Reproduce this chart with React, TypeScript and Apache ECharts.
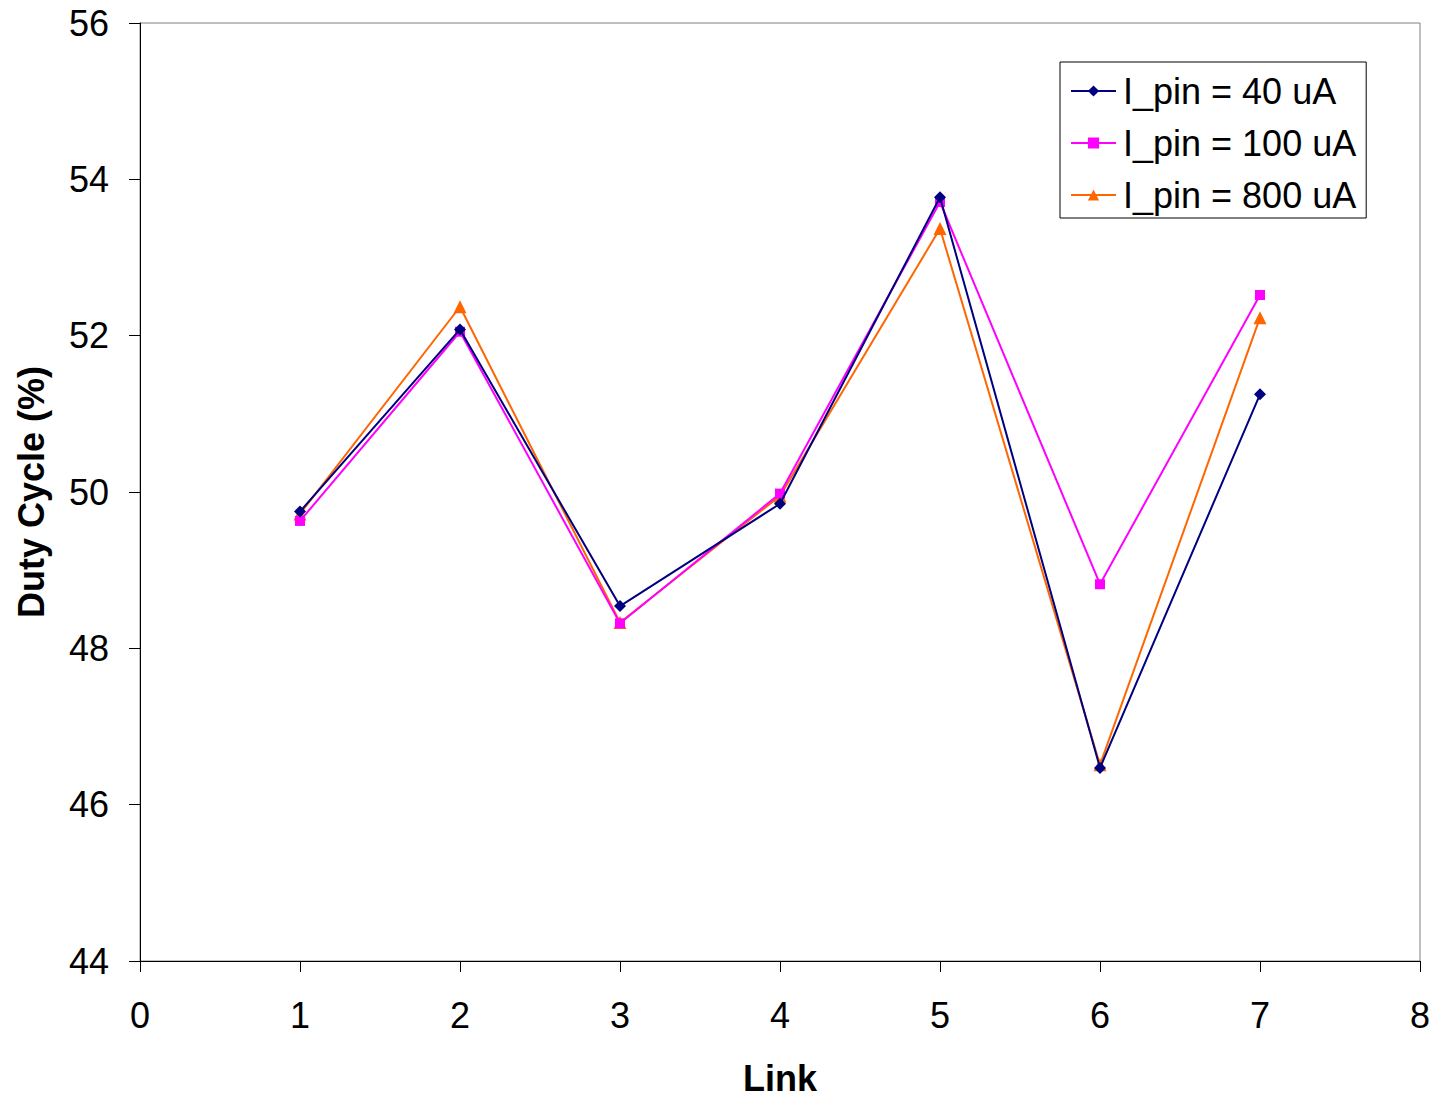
import React, { useEffect, useRef } from "react";
import * as echarts from "echarts";

const links = [1, 2, 3, 4, 5, 6, 7];
const seriesNames = ["I_pin = 40 uA", "I_pin = 100 uA", "I_pin = 800 uA"];
const pin40 = [49.75, 52.08, 48.54, 49.85, 53.77, 46.47, 51.25];
const pin100 = [49.63, 52.05, 48.32, 49.98, 53.71, 48.82, 52.52];
const pin800 = [49.72, 52.37, 48.33, 49.95, 53.37, 46.51, 52.23];
const colors = ["#000080", "#FF00FF", "#FF6600"];
const symbols = ["diamond", "rect", "triangle"];
const symbolSizes = [12, 10, 13];

const FONT = "'Liberation Sans', Arial, sans-serif";

export default function App() {
  const ref = useRef<HTMLDivElement>(null);
  useEffect(() => {
    if (!ref.current) return;
    const chart = echarts.init(ref.current, undefined, { renderer: "svg" });
    const allData = [pin40, pin100, pin800];
    chart.setOption({
      animation: false,
      backgroundColor: "#ffffff",
      textStyle: { fontFamily: FONT },
      grid: {
        left: 140,
        top: 23,
        right: 14,
        bottom: 137,
        containLabel: false,
        outerBoundsMode: "none",
        show: true,
        borderColor: "#808080",
        borderWidth: 1,
      },
      legend: {
        orient: "vertical",
        left: 1060,
        top: 62,
        padding: [11, 10, 5, 10],
        itemWidth: 45,
        itemHeight: 14,
        itemGap: 16,
        backgroundColor: "#ffffff",
        borderColor: "#000000",
        borderWidth: 1,
        borderRadius: 0,
        textStyle: { fontSize: 36, color: "#000", fontFamily: FONT, padding: [0, 0, 0, 2] },
        data: seriesNames,
      },
      xAxis: {
        type: "value",
        min: 0,
        max: 8,
        interval: 1,
        name: "Link",
        nameLocation: "middle",
        nameGap: 99,
        nameTextStyle: { fontSize: 36, fontWeight: "bold", color: "#000", fontFamily: FONT },
        axisLine: { show: true, lineStyle: { color: "#000", width: 1 } },
        axisTick: { show: true, inside: false, length: 11, lineStyle: { color: "#000" } },
        axisLabel: { fontSize: 36, color: "#000", margin: 36, fontFamily: FONT, showMaxLabel: true, showMinLabel: true },
        splitLine: { show: false },
      },
      yAxis: {
        type: "value",
        min: 44,
        max: 56,
        interval: 2,
        name: "Duty Cycle (%)",
        nameLocation: "middle",
        nameGap: 91,
        nameRotate: 90,
        nameTextStyle: { fontSize: 36, fontWeight: "bold", color: "#000", fontFamily: FONT },
        axisLine: { show: true, lineStyle: { color: "#000", width: 1 } },
        axisTick: { show: true, inside: false, length: 11, lineStyle: { color: "#000" } },
        axisLabel: { fontSize: 36, color: "#000", margin: 31, fontFamily: FONT },
        splitLine: { show: false },
      },
      series: seriesNames.map((name, i) => ({
        name,
        type: "line",
        data: links.map((x, j) => [x, allData[i][j]]),
        symbol: symbols[i],
        symbolSize: symbolSizes[i],
        showAllSymbol: true,
        itemStyle: { color: colors[i] },
        lineStyle: { color: colors[i], width: 2 },
        z: 3 - i,
      })),
    });
    return () => chart.dispose();
  }, []);
  return (
    <div
      ref={ref}
      style={{ position: "absolute", left: 0, top: 0, width: 1434, height: 1098, overflow: "visible" }}
    />
  );
}
